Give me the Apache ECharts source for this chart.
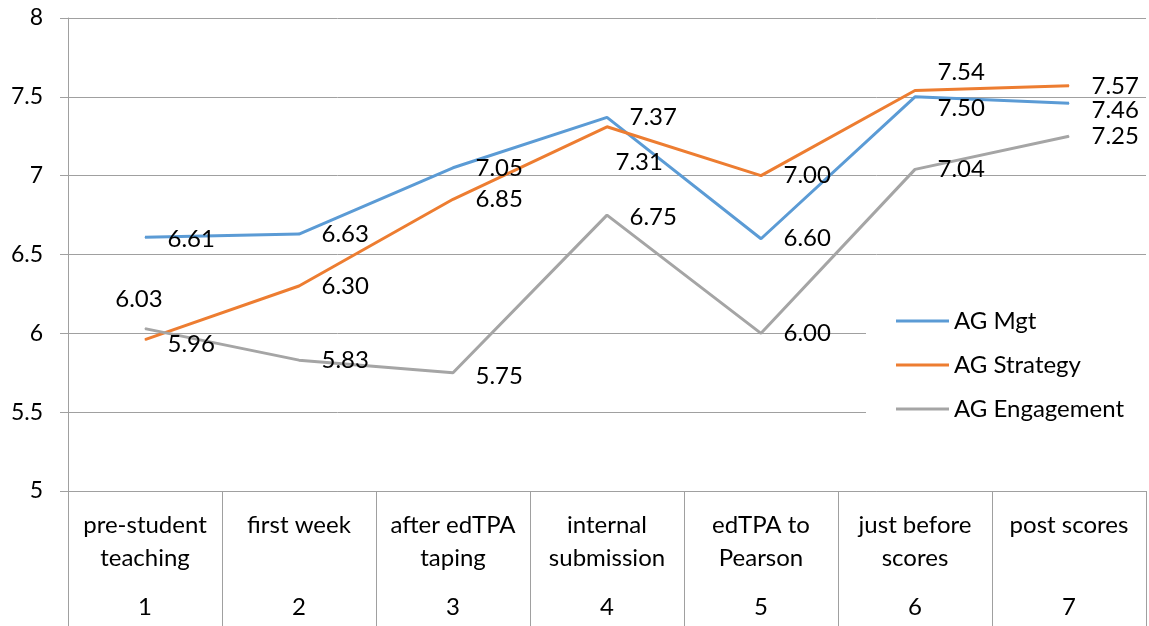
<!DOCTYPE html>
<html>
<head>
<meta charset="utf-8">
<script src="https://cdn.jsdelivr.net/npm/echarts@6/dist/echarts.min.js"></script>
<style>
  html, body { margin: 0; padding: 0; background: #fff; }
  #chart { width: 1149px; height: 626px; }
</style>
</head>
<body>
<div id="chart"></div>
<script>
const stages = ['pre-student\nteaching', 'first week', 'after edTPA\ntaping', 'internal\nsubmission',
  'edTPA to\nPearson', 'just before\nscores', 'post scores']
const stageNums = ['1', '2', '3', '4', '5', '6', '7']
const mgt = [6.61, 6.63, 7.05, 7.37, 6.60, 7.50, 7.46]
const strategy = [5.96, 6.30, 6.85, 7.31, 7.00, 7.54, 7.57]
const engagement = [6.03, 5.83, 5.75, 6.75, 6.00, 7.04, 7.25]

// labels that Excel had moved by hand
const labelNudge = {
  mgt: { 0: { offset: [0, 2] }, 5: { offset: [0, 11] }, 6: { offset: [0, 7] } },
  strategy: { 0: { offset: [0, 5] }, 3: { offset: [-14, 35] }, 5: { offset: [0, -18] } },
  engagement: { 0: { position: 'top', distance: 17, offset: [-6, 0] }, 2: { offset: [0, 4] }, 3: { offset: [0, 2] } }
}

const font = 'Lato'

function build (name, values, color, key) {
  return {
    name: name,
    type: 'line',
    symbol: 'circle',
    symbolSize: 1,
    lineStyle: { color: color, width: 3 },
    itemStyle: { color: color },
    data: values.map((v, i) => {
      const n = labelNudge[key][i]
      return n ? { value: v, label: n } : v
    }),
    label: {
      show: true,
      position: 'right',
      distance: 22,
      color: '#000',
      fontFamily: font,
      fontSize: 24,
      formatter: p => Number(p.value).toFixed(2)
    }
  }
}

const chart = echarts.init(document.getElementById('chart'))
chart.setOption({
  animation: false,
  backgroundColor: '#fff',
  grid: { left: 68, right: 3, top: 18, bottom: 135 },
  legend: {
    orient: 'vertical',
    left: 866,
    top: 290,
    padding: [18, 40, 18, 30],
    backgroundColor: '#fff',
    icon: 'rect',
    itemWidth: 53,
    itemHeight: 3,
    itemGap: 18,
    textStyle: { fontFamily: font, fontSize: 24, lineHeight: 26, color: '#000' },
    data: ['AG Mgt', 'AG Strategy', 'AG Engagement']
  },
  xAxis: [
    {
      type: 'category',
      data: stages,
      axisLine: { lineStyle: { color: '#a0a0a0', width: 1 } },
      axisTick: { show: true, interval: 0, length: 135, lineStyle: { color: '#a0a0a0' } },
      axisLabel: { interval: 0, margin: 18, color: '#000', fontFamily: font, fontSize: 24, lineHeight: 33 }
    },
    {
      type: 'category',
      position: 'bottom',
      data: stageNums,
      axisLine: { show: false },
      axisTick: { show: false },
      axisLabel: { interval: 0, margin: 100, color: '#000', fontFamily: font, fontSize: 24, lineHeight: 33 }
    }
  ],
  yAxis: {
    type: 'value',
    min: 5,
    max: 8,
    interval: 0.5,
    axisLine: { show: true, lineStyle: { color: '#a0a0a0' } },
    axisTick: { show: true, length: 8, lineStyle: { color: '#a0a0a0' } },
    splitLine: { lineStyle: { color: '#a0a0a0' } },
    axisLabel: { margin: 25, color: '#000', fontFamily: font, fontSize: 23 }
  },
  series: [
    build('AG Mgt', mgt, '#5b9bd5', 'mgt'),
    build('AG Strategy', strategy, '#ed7d31', 'strategy'),
    build('AG Engagement', engagement, '#a5a5a5', 'engagement')
  ]
})
</script>
</body>
</html>
